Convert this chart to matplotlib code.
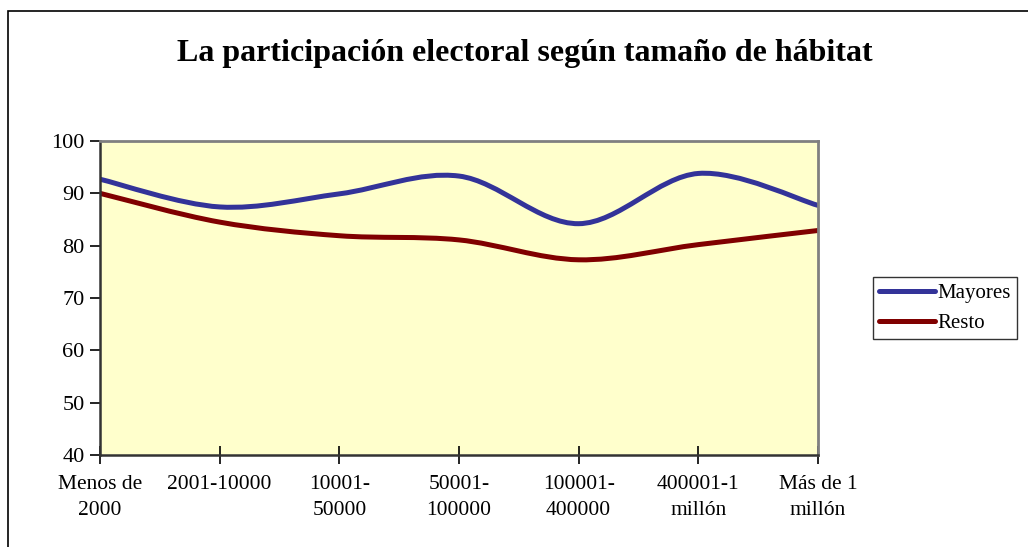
import matplotlib
matplotlib.use('Agg')

import matplotlib.pyplot as plt
from matplotlib.path import Path
from matplotlib.patches import PathPatch, Rectangle
from matplotlib.lines import Line2D

categories = ['Menos de\n2000', '2001-10000', '10001-\n50000', '50001-\n100000',
              '100001-\n400000', '400001-1\nmillón', 'Más de 1\nmillón']
mayores = [92.7, 87.4, 89.9, 93.3, 84.2, 93.8, 87.7]
resto = [90.0, 84.5, 81.9, 81.1, 77.3, 80.2, 82.9]
y_ticks = [40, 50, 60, 70, 80, 90, 100]

BLUE = '#333399'
RED = '#800000'


def smooth_path(xs, ys):
    # Excel-style smoothed line: cubic Bezier with Catmull-Rom control points
    n = len(xs)
    verts = [(xs[0], ys[0])]
    codes = [Path.MOVETO]
    for i in range(n - 1):
        i0 = max(i - 1, 0)
        i3 = min(i + 2, n - 1)
        c1 = (xs[i] + (xs[i + 1] - xs[i0]) / 6, ys[i] + (ys[i + 1] - ys[i0]) / 6)
        c2 = (xs[i + 1] - (xs[i3] - xs[i]) / 6, ys[i + 1] - (ys[i3] - ys[i]) / 6)
        verts += [c1, c2, (xs[i + 1], ys[i + 1])]
        codes += [Path.CURVE4] * 3
    return Path(verts, codes)


plt.rcParams['font.family'] = ['Liberation Serif', 'DejaVu Serif']

fig = plt.figure(figsize=(10.28, 5.47), dpi=100)
fig.patch.set_facecolor('white')

# outer chart frame
fig.patches.append(Rectangle((8 / 1028, -0.05), 1.1, 1 - 11 / 547 + 0.05,
                             transform=fig.transFigure, fill=False,
                             edgecolor='black', linewidth=1.2))

ax = fig.add_axes([100 / 1028, 1 - 455 / 547, 718 / 1028, 314 / 547])
ax.set_facecolor('#FFFFCC')

xs = list(range(len(categories)))
for vals, color in [(mayores, BLUE), (resto, RED)]:
    ax.add_patch(PathPatch(smooth_path(xs, vals), facecolor='none',
                           edgecolor=color, linewidth=3.6, capstyle='round',
                           joinstyle='round'))

ax.set_xlim(0, len(categories) - 1)
ax.set_ylim(40, 100)
ax.set_yticks(y_ticks)
ax.set_xticks(xs)
ax.set_xticklabels(categories, fontsize=15.5, linespacing=1.5)
ax.tick_params(axis='y', labelsize=16, direction='out', length=7, width=1.2,
               pad=4)
ax.tick_params(axis='x', direction='inout', length=13, width=1.2, pad=8)

ax.spines['left'].set_color('#333333')
ax.spines['bottom'].set_color('#333333')
ax.spines['left'].set_linewidth(1.8)
ax.spines['bottom'].set_linewidth(1.8)
ax.spines['top'].set_color('#808080')
ax.spines['right'].set_color('#808080')
ax.spines['top'].set_linewidth(2)
ax.spines['right'].set_linewidth(2)

fig.text(525 / 1028, 1 - 54 / 547, 'La participación electoral según tamaño de hábitat',
         ha='center', va='center', fontsize=23, fontweight='bold')

handles = [Line2D([], [], color=BLUE, linewidth=3.6, solid_capstyle='round'),
           Line2D([], [], color=RED, linewidth=3.6, solid_capstyle='round')]
leg = fig.legend(handles, ['Mayores', 'Resto'], loc='center',
                 bbox_to_anchor=(945 / 1028, 1 - 308 / 547), fontsize=15,
                 frameon=True, fancybox=False, edgecolor='black',
                 handlelength=2.7, handletextpad=0.1, borderpad=0.3,
                 labelspacing=0.5, borderaxespad=0)
leg.get_frame().set_linewidth(1.0)

fig.savefig('out.png', dpi=100, facecolor='white')
